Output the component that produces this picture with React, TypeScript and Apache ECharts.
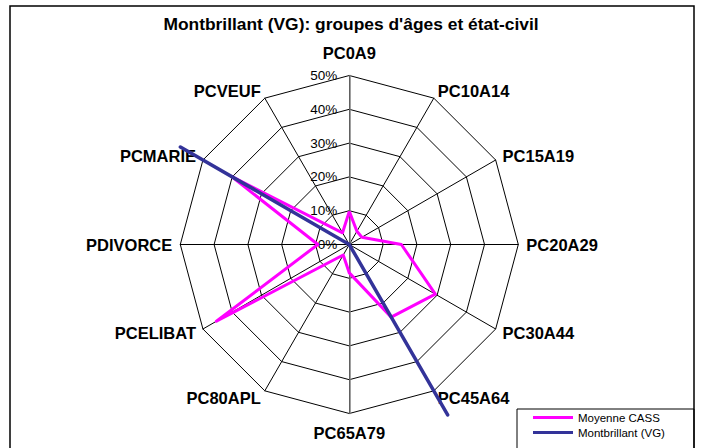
import React, { useEffect, useRef } from 'react';
import * as echarts from 'echarts';

const TITLE = "Montbrillant (VG): groupes d'âges et état-civil";
// categories listed clockwise starting at the top
const categories = ['PC0A9', 'PC10A14', 'PC15A19', 'PC20A29', 'PC30A44', 'PC45A64', 'PC65A79', 'PC80APL', 'PCELIBAT', 'PDIVORCE', 'PCMARIE', 'PCVEUF'];
const moyenneCASS = [9.8, 4.5, 4.3, 15.4, 29.4, 24.8, 8.4, 3.6, 45.4, 9.3, 40.3, 4.0];
const montbrillant = [0, 0, 0, 0, 0, 58.2, 0, 0, 0, 0, 57.7, 0];
const seriesNames = ['Moyenne CASS', 'Montbrillant (VG)'];
const seriesColors = ['#FF00FF', '#333399'];
const percentTicks = [0, 10, 20, 30, 40, 50];

// ECharts radar runs counter-clockwise: keep first, reverse the rest
const ccw = <T,>(arr: T[]): T[] => [arr[0], ...arr.slice(1).reverse()];

const CX = 349.3;
const CY = 244.5;
const R = 169;
const FONT = 'Arial, "Liberation Sans", Helvetica, sans-serif';

export default function App() {
  const ref = useRef<HTMLDivElement>(null);
  useEffect(() => {
    if (!ref.current) return;
    const chart = echarts.init(ref.current, undefined, { renderer: 'svg' });
    const maxV = percentTicks[percentTicks.length - 1];
    chart.setOption({
      animation: false,
      backgroundColor: '#fff',
      title: {
        text: TITLE,
        left: 'center',
        top: 10,
        textStyle: { fontFamily: FONT, fontSize: 17.4, fontWeight: 'bold', color: '#000' },
      },
      graphic: [
        { type: 'rect', shape: { x: 10, y: 6, width: 684, height: 470 }, style: { fill: 'none', stroke: '#000', lineWidth: 1.5 }, z: 100 },
        { type: 'rect', shape: { x: 517, y: 409, width: 177, height: 60 }, style: { fill: 'none', stroke: '#000', lineWidth: 1 }, z: 100 },
      ],
      legend: {
        orient: 'vertical',
        left: 533,
        top: 411.5,
        padding: 0,
        itemGap: 3,
        icon: 'rect',
        itemWidth: 40,
        itemHeight: 3,
        data: seriesNames,
        textStyle: { fontFamily: FONT, fontSize: 11.5, color: '#000' },
      },
      radar: {
        center: [CX, CY],
        radius: R,
        startAngle: 90,
        shape: 'polygon',
        splitNumber: 5,
        nameGap: 8,
        axisName: {
          color: '#000',
          fontFamily: FONT,
          fontSize: 16.5,
          fontWeight: 'bold',
          formatter: (name: string) =>
            name === categories[0] ? `{t|${name}}` : name === categories[6] ? `{b|${name}}` : name,
          rich: {
            t: { fontFamily: FONT, fontSize: 16.5, fontWeight: 'bold', color: '#000', padding: [0, 0, 6, 0] },
            b: { fontFamily: FONT, fontSize: 16.5, fontWeight: 'bold', color: '#000', padding: [3, 0, 0, 0] },
          },
        },
        splitLine: { lineStyle: { color: '#000', width: 1 } },
        splitArea: { show: false },
        axisLine: { lineStyle: { color: '#000', width: 1 } },
        axisTick: { show: false },
        axisLabel: { show: false },
        indicator: ccw(categories).map((name) => ({ name, min: 0, max: maxV })),
      },
      grid: { left: CX, top: CY - R, width: 1, height: 2 * R },
      xAxis: { type: 'value', show: false, min: 0, max: 1 },
      yAxis: {
        type: 'value',
        min: -maxV,
        max: maxV,
        interval: 10,
        axisLine: { show: true, lineStyle: { color: '#808080', width: 1.5 } },
        axisTick: { show: false },
        splitLine: { show: false },
        axisLabel: {
          margin: 12,
          color: '#000',
          fontFamily: FONT,
          fontSize: 13.5,
          formatter: (v: number) => (percentTicks.includes(v) ? `${v}%` : ''),
        },
      },
      series: [
        {
          type: 'radar',
          symbol: 'none',
          data: [
            {
              name: seriesNames[0],
              value: ccw(moyenneCASS),
              itemStyle: { color: seriesColors[0] },
              lineStyle: { color: seriesColors[0], width: 3 },
            },
            {
              name: seriesNames[1],
              value: ccw(montbrillant),
              itemStyle: { color: seriesColors[1] },
              lineStyle: { color: seriesColors[1], width: 3.5 },
            },
          ],
        },
      ],
    });
    return () => chart.dispose();
  }, []);
  return (
    <div
      ref={ref}
      style={{ position: 'fixed', left: 0, top: 0, width: 702, height: 448, background: '#fff' }}
    />
  );
}
